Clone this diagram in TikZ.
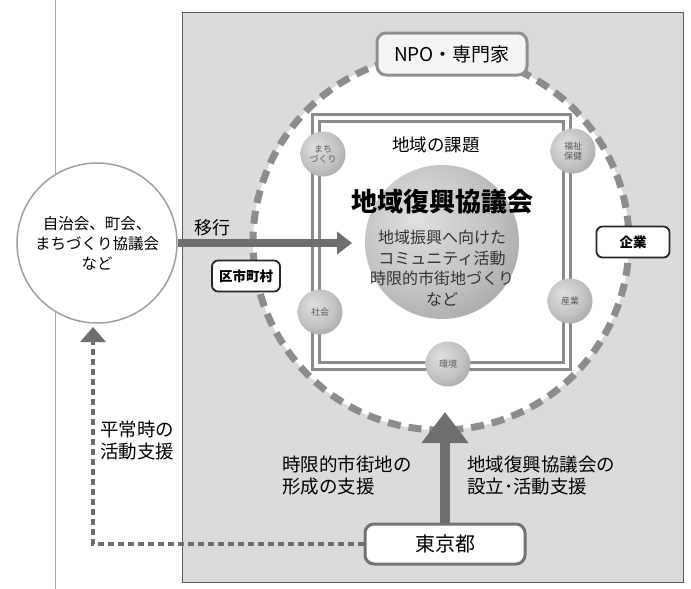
\documentclass[tikz,border=0pt]{standalone}
\usepackage{fontspec}
\setmainfont{Noto Sans CJK JP}
\usetikzlibrary{arrows.meta}
\definecolor{bgg}{HTML}{DBDBDB}
\definecolor{arrg}{HTML}{6E6E6E}
\definecolor{dashg}{HTML}{8C8C8C}
\definecolor{sqg}{HTML}{8A8A8A}
\definecolor{npog}{HTML}{8F8F8F}
\definecolor{txtg}{HTML}{333333}
\pgfdeclareradialshading{softball}{\pgfpoint{-9bp}{9bp}}{color(0bp)=(white!88!black); color(22bp)=(white!76!black); color(42bp)=(white!58!black); color(60bp)=(white!46!black)}
\newcommand{\myfs}[2]{\fontsize{#1}{#2}\selectfont}
\tikzset{
  lbl/.style={inner sep=0pt, align=left, font=\myfs{18.5}{22}},
  smallball/.style={circle, shading=softball, minimum size=45pt, inner sep=0pt, align=center, font=\myfs{9}{10}, text=black!65},
  bigball/.style={circle, shading=softball, minimum size=154pt, inner sep=0pt},
  blackbox/.style={draw=black!85, line width=1.8pt, rounded corners=6pt, fill=white, inner sep=0pt, font=\myfs{13.5}{14}\bfseries},
  graybox/.style={rounded corners=9pt, line width=3pt, inner sep=0pt},
  bigarrow/.style={arrg, line width=#1},
}
\begin{document}
\begin{tikzpicture}[x=1pt,y=-1pt]
\useasboundingbox (0,0) rectangle (691,589);
\fill[white] (0,0) rectangle (691,589);
% left rule
\draw[gray!70, line width=1pt] (55,0) -- (55,589);
% background panel
\draw[black!65, line width=1pt, fill=bgg] (182,12) rectangle (683,582);
% dashed ring
\fill[white] (441,242) circle[radius=188];
\draw[dashg, line width=7pt, dash pattern=on 13pt off 8pt] (441,242) circle[radius=188];
% double square
\draw[sqg, line width=2.6pt, double=white, double distance=4pt] (316,118) rectangle (567,366);
% small balls
\node[smallball] (b1) at (323,154) {まち\\づくり};
\node[smallball] (b2) at (573,151) {福祉\\保健};
\node[smallball] (b3) at (320,312) {社会};
\node[smallball] (b4) at (570,301) {産業};
\node[smallball] (b5) at (448,364) {環境};
% big ball
\node[bigball] (big) at (442,242) {};
\node[inner sep=0pt, font=\myfs{17.5}{18}] (kadai) at (436,145) {地域の課題};
\node[inner sep=0pt, font=\myfs{26}{26}\bfseries] (title) at (442,202) {地域復興協議会};
\node[inner sep=0pt, align=center, text=txtg, font=\myfs{16}{20.5}] (sub) at (442,268) {地域振興へ向けた\\コミュニティ活動\\時限的市街地づくり\\など};
% left circle
\node[circle, draw=gray!75, line width=1.5pt, fill=white, minimum size=160pt, inner sep=0pt, align=center, font=\myfs{15.5}{20}] (jichi) at (97,243) {自治会、町会、\\まちづくり協議会\\など};
% boxes
\node[graybox, draw=npog, fill=white!92!gray, minimum width=150pt, minimum height=42pt, font=\myfs{19}{19}] (npo) at (452,54) {NPO・専門家};
\node[blackbox, minimum width=73pt, minimum height=31pt] (kigyo) at (633,242) {企業};
\node[blackbox, minimum width=68pt, minimum height=31pt] (kushi) at (246,276) {区市町村};
\node[graybox, draw=black!55, fill=white, minimum width=160pt, minimum height=40pt, font=\myfs{20}{20}] (tokyo) at (445,544) {東京都};
% arrows
\coordinate (ikoutip) at (352,243);
\draw[bigarrow=8pt, -{Triangle[length=15pt,width=22pt]}] (jichi.east) -- (ikoutip);
\coordinate (uptip) at (445,412);
\draw[bigarrow=10pt, -{Triangle[length=31pt,width=45pt]}] (tokyo.north) -- (uptip);
\coordinate (heitip) at (93,327);
\draw[arrg, line width=3.4pt, dash pattern=on 6pt off 4pt, -{Triangle[length=15pt,width=25pt]}] (tokyo.west) -| (heitip);
% labels
\node[inner sep=0pt, font=\myfs{18}{18}] (ikou) at (212,228) {移行};
\node[lbl, anchor=west] (heijo) at (100,441) {平常時の\\活動支援};
\node[lbl, anchor=west] (gen) at (282,475) {時限的市街地の\\形成の支援};
\node[lbl, anchor=west] (setsu) at (467,475) {地域復興協議会の\\設立･活動支援};
\end{tikzpicture}
\end{document}
